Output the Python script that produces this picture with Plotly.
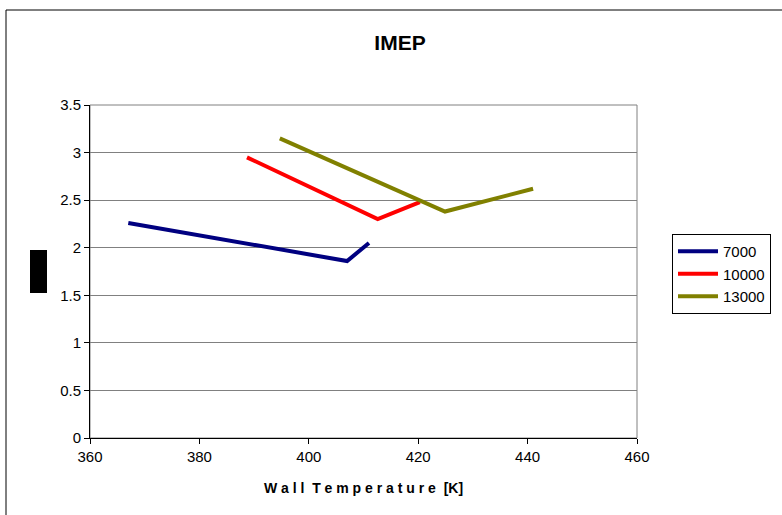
import plotly.graph_objects as go

# данные
series_names = ["7000", "10000", "13000"]
series_colors = ["#000080", "#FF0000", "#808000"]
temp_7000 = [367, 407, 411]
imep_7000 = [2.26, 1.86, 2.05]
temp_10000 = [388.7, 412.6, 420.3]
imep_10000 = [2.95, 2.30, 2.48]
temp_13000 = [394.7, 424.9, 441]
imep_13000 = [3.15, 2.38, 2.62]

x_ticks = [360, 380, 400, 420, 440, 460]
y_ticks = [0, 0.5, 1, 1.5, 2, 2.5, 3, 3.5]

font_name = "Liberation Sans, Arial, sans-serif"

fig = go.Figure()
for name, color, xs, ys in zip(series_names, series_colors,
                                [temp_7000, temp_10000, temp_13000],
                                [imep_7000, imep_10000, imep_13000]):
    fig.add_trace(go.Scatter(x=xs, y=ys, mode="lines", name=name,
                             line=dict(color=color, width=4)))

# размеры области построения в пикселях
W, H = 782, 515
L, R, T, B = 90, 145, 105, 77
pw, ph = W - L - R, H - T - B

def px(x):
    return (x - L) / pw

def py(y):
    return (H - B - y) / ph

fig.update_layout(
    width=W, height=H,
    margin=dict(l=L, r=R, t=T, b=B, autoexpand=False),
    paper_bgcolor="white", plot_bgcolor="white",
    font=dict(family=font_name, size=15, color="black"),
    title=dict(text="<b>IMEP</b>", x=400 / W, xanchor="center",
               y=1 - 43 / H, yanchor="middle",
               font=dict(size=21, family=font_name)),
    xaxis=dict(range=[360, 460], tickvals=x_ticks, showgrid=False,
               zeroline=False, showline=True, linecolor="black", linewidth=1,
               ticks="outside", ticklen=5, tickcolor="black",
               title=dict(text="<b>W a l l  T e m p e r a t u r e  [K]</b>",
                          font=dict(size=14), standoff=19)),
    yaxis=dict(range=[0, 3.5], tickvals=y_ticks, showgrid=True,
               gridcolor="#808080", gridwidth=1, zeroline=False,
               showline=True, linecolor="black", linewidth=1,
               ticks="outside", ticklen=5, tickcolor="black"),
    legend=dict(x=px(672), y=py(234), xanchor="left", yanchor="top",
                bordercolor="black", borderwidth=1, bgcolor="white",
                font=dict(size=15), tracegroupgap=0, itemwidth=40),
    showlegend=True,
)

# рамка всей диаграммы и рамка области построения
fig.add_shape(type="rect", xref="paper", yref="paper",
              x0=px(6), x1=px(800), y0=py(530), y1=py(10),
              line=dict(color="black", width=1), layer="below")
fig.add_shape(type="rect", xref="paper", yref="paper",
              x0=0, x1=1, y0=0, y1=1,
              line=dict(color="#808080", width=1), layer="below")
# закрашенная подпись оси Y
fig.add_shape(type="rect", xref="paper", yref="paper",
              x0=px(30), x1=px(47), y0=py(293), y1=py(250),
              fillcolor="black", line=dict(color="black", width=0))

fig.write_html("out.html", config={"displayModeBar": False},
               post_script="document.body.style.margin='0';")
